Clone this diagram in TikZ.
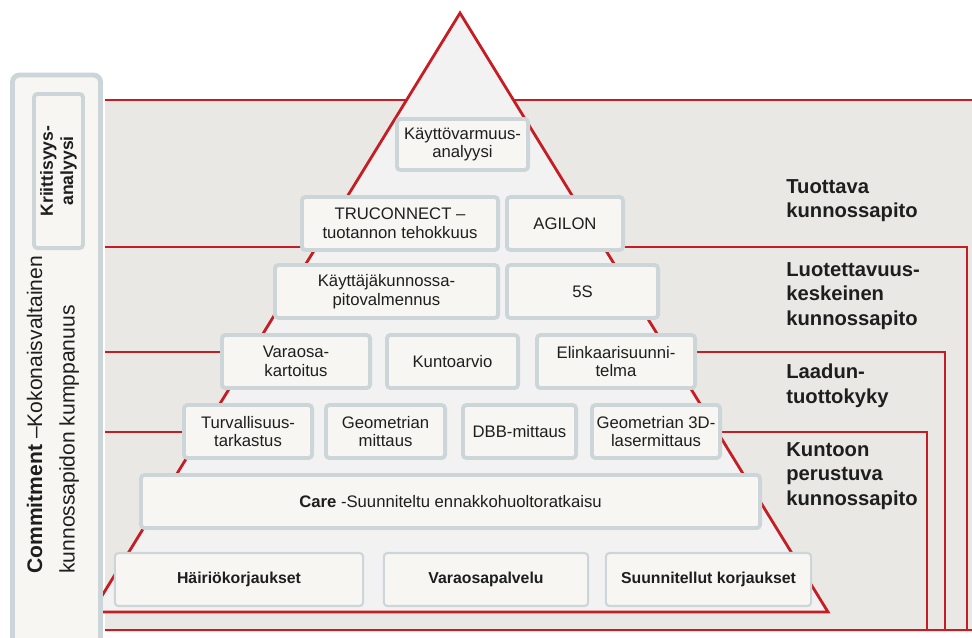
\documentclass[tikz,border=0pt]{standalone}
\usepackage{fontspec}
\setmainfont{Liberation Sans}

\definecolor{bgGray}{RGB}{233,232,228}
\definecolor{pyrGray}{RGB}{242,242,243}
\definecolor{boxFill}{RGB}{247,246,242}
\definecolor{boxLine}{RGB}{204,213,216}
\definecolor{lineRed}{RGB}{196,30,36}
\definecolor{txtDark}{RGB}{30,30,30}

\begin{document}
\begin{tikzpicture}[x=0.02cm, y=-0.02cm,
    box/.style={rectangle, draw=boxLine, line width=2.2pt, fill=boxFill, rounded corners=2pt, minimum height=1.06cm, align=center, inner sep=1pt, text=txtDark, font=\fontsize{9.5}{10.6}\selectfont},
    basebox/.style={box, line width=1.2pt, minimum height=1.06cm, font=\fontsize{9}{11}\selectfont\bfseries},
    wd/.style={minimum width=#1*0.02cm-2.2pt},
    redline/.style={draw=lineRed, line width=1.6pt},
    sidelabel/.style={anchor=west, align=left, inner sep=0pt, text=txtDark, font=\fontsize{11.5}{14}\selectfont\bfseries}
]
\useasboundingbox (0,0) rectangle (972,637);

% Background band
\fill[bgGray] (105,100) rectangle (972,632);

% Level lines
\draw[redline] (105,100) -- (972,100);
\draw[redline] (105,247) -- (967,247) -- (967,630);
\draw[redline] (105,352) -- (945,352) -- (945,630);
\draw[redline] (105,432) -- (927,432) -- (927,630);
\draw[redline] (105,630) -- (972,630);

% Pyramid
\draw[redline, fill=pyrGray] (460,13) -- (828,612) -- (92,612) -- cycle;

% Side panel
\draw[draw=boxLine, line width=2.8pt, fill=boxFill, rounded corners=4pt] (12.5,75) rectangle (100.5,650);
\node[box, rotate=90, wd=158, minimum height=0.98cm, font=\fontsize{10}{11.5}\selectfont\bfseries] (krit) at (58.5,171) {Kriittisyys-\\analyysi};
\node[rotate=90, anchor=west, align=left, inner sep=0pt, text=txtDark, font=\fontsize{12}{18.5}\selectfont] (commit) at (53,574) {\textbf{Commitment} –Kokonaisvaltainen\\kunnossapidon kumppanuus};

% Pyramid boxes
\node[box, wd=135, minimum height=1.02cm] (kva) at (462.5,144.5) {Käyttövarmuus-\\analyysi};

\node[box, wd=200] (truc) at (400,223.5) {TRUCONNECT –\\tuotannon tehokkuus};
\node[box, wd=120] (agil) at (565,223.5) {AGILON};

\node[box, wd=227] (kayt) at (386.5,291.5) {Käyttäjäkunnossa-\\pitovalmennus};
\node[box, wd=155] (fives) at (582.5,291.5) {5S};

\node[box, wd=152] (vara) at (296,361.5) {Varaosa-\\kartoitus};
\node[box, wd=135] (kunto) at (452.5,361.5) {Kuntoarvio};
\node[box, wd=162] (elin) at (616,361.5) {Elinkaarisuunni-\\telma};

\node[box, wd=132] (turv) at (248,431.5) {Turvallisuus-\\tarkastus};
\node[box, wd=123] (geom) at (385.5,431.5) {Geometrian\\mittaus};
\node[box, wd=117] (dbb) at (519.5,431.5) {DBB-mittaus};
\node[box, wd=132] (geo3d) at (656,431.5) {Geometrian 3D-\\lasermittaus};

\node[box, wd=623] (care) at (450.5,501.5) {\textbf{Care} -Suunniteltu ennakkohuoltoratkaisu};

\node[basebox, wd=252] (hairio) at (239,579.5) {Häiriökorjaukset};
\node[basebox, wd=208] (varpal) at (486,579.5) {Varaosapalvelu};
\node[basebox, wd=209] (suunn) at (708.5,579.5) {Suunnitellut korjaukset};

% Level labels
\node[sidelabel] (tuottava) at (786,200.5) {Tuottava\\kunnossapito};
\node[sidelabel] (luotett) at (786,296) {Luotettavuus-\\keskeinen\\kunnossapito};
\node[sidelabel] (laadun) at (786,385.5) {Laadun-\\tuottokyky};
\node[sidelabel] (kuntoon) at (786,476) {Kuntoon\\perustuva\\kunnossapito};

\end{tikzpicture}
\end{document}
